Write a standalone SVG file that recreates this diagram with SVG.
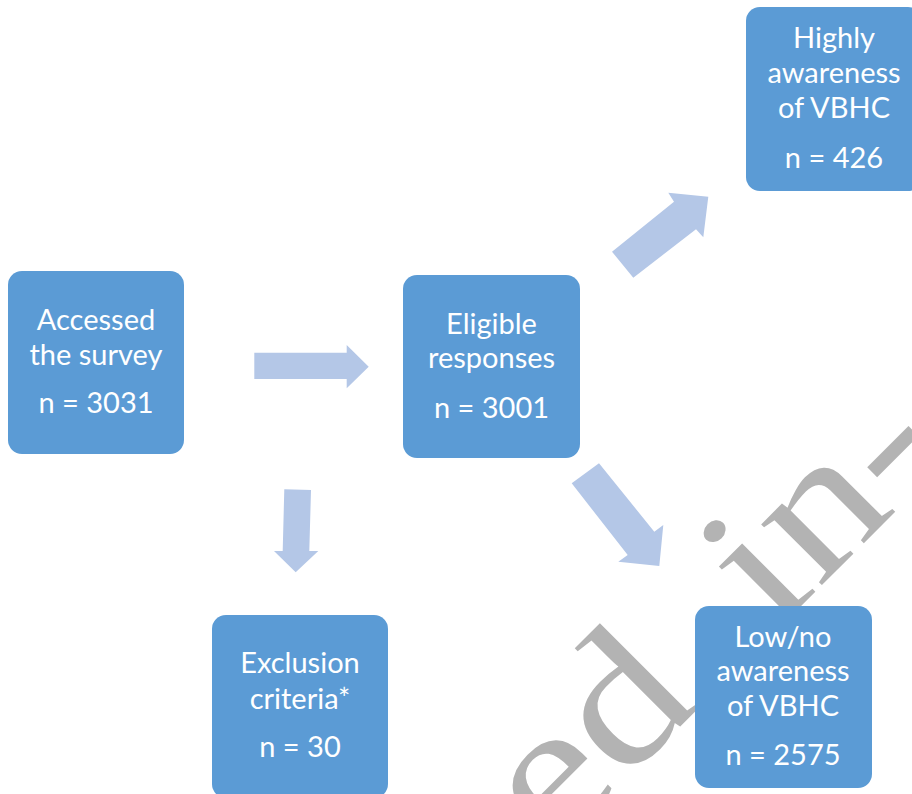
<svg xmlns="http://www.w3.org/2000/svg" width="912" height="794" viewBox="0 0 912 794">
<defs>
<style>
.box{fill:#5b9bd5;}
.lbl{fill:#ffffff;font-family:Lato,"Open Sans","Liberation Sans",sans-serif;font-size:29px;text-anchor:middle;}
.arr{fill:#b4c7e7;}
.wm{fill:#b3b3b3;font-family:"Liberation Serif","Times New Roman",serif;font-size:187px;}
</style>
</defs>
<rect width="912" height="794" fill="#ffffff"/>
<g id="watermark">
<text class="wm" transform="translate(552.9,854) rotate(-45) scale(1.2,1)">ed <tspan dx="37.5">in-</tspan></text>
</g>
<g id="connectors">
<polygon class="arr" points="254.3,352.7 346.7,352.7 346.7,345 368.7,366.7 346.7,388.3 346.7,379 254.3,379"/>
<polygon class="arr" points="284.3,489.3 311,490 309.3,551 318.3,551 295.7,572.3 274,551 282.7,551"/>
<polygon class="arr" points="612,251.7 674,201.7 668.3,192.7 708.3,196.7 703.3,237.3 696,229.3 633.3,277.7"/>
<polygon class="arr" points="571.7,483.3 599,463.3 654.3,531.7 663.3,525 659.3,566 618.3,561.7 627.7,555"/>
</g>
<g id="accessed">
<rect class="box" x="8" y="271" width="176" height="183" rx="14"/>
<text class="lbl" x="96" y="330">Accessed</text>
<text class="lbl" x="96" y="365">the survey</text>
<text class="lbl" x="96" y="413">n = 3031</text>
</g>
<g id="eligible">
<rect class="box" x="403" y="275" width="177" height="183" rx="14"/>
<text class="lbl" x="491.5" y="334">Eligible</text>
<text class="lbl" x="491.5" y="368">responses</text>
<text class="lbl" x="491.5" y="418">n = 3001</text>
</g>
<g id="highly">
<rect class="box" x="746" y="7" width="176" height="184" rx="14"/>
<text class="lbl" x="834" y="48">Highly</text>
<text class="lbl" x="834" y="83">awareness</text>
<text class="lbl" x="834" y="118">of VBHC</text>
<text class="lbl" x="834" y="168">n = 426</text>
</g>
<g id="exclusion">
<rect class="box" x="212" y="615" width="176" height="183" rx="14"/>
<text class="lbl" x="300" y="673">Exclusion</text>
<text class="lbl" x="300" y="709">criteria*</text>
<text class="lbl" x="300" y="757">n = 30</text>
</g>
<g id="lowno">
<rect class="box" x="695" y="606" width="177" height="182" rx="14"/>
<text class="lbl" x="783" y="647">Low/no</text>
<text class="lbl" x="783" y="681">awareness</text>
<text class="lbl" x="783" y="716">of VBHC</text>
<text class="lbl" x="783" y="765">n = 2575</text>
</g>
</svg>
